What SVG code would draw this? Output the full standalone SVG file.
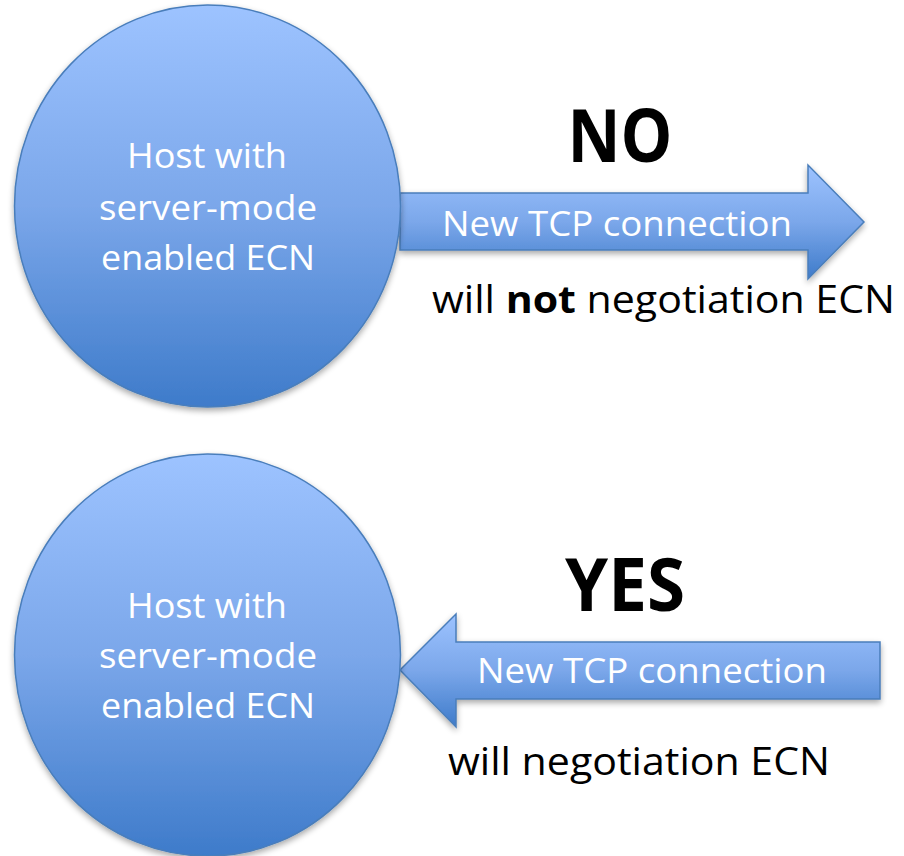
<svg xmlns="http://www.w3.org/2000/svg" width="904" height="856" viewBox="0 0 904 856">
  <defs>
    <linearGradient id="gBlue" x1="0" y1="0" x2="0" y2="1">
      <stop offset="0" stop-color="#9DC3FF"/>
      <stop offset="0.5" stop-color="#7BA7EA"/>
      <stop offset="1" stop-color="#3E7BCA"/>
    </linearGradient>
    <filter id="shadow" x="-10%" y="-10%" width="120%" height="125%">
      <feGaussianBlur in="SourceAlpha" stdDeviation="3"/>
      <feOffset dx="0" dy="3" result="b"/>
      <feComponentTransfer><feFuncA type="linear" slope="0.35"/></feComponentTransfer>
      <feMerge><feMergeNode/><feMergeNode in="SourceGraphic"/></feMerge>
    </filter>
  </defs>
  <style>
    .shape { fill: url(#gBlue); stroke: #4A7EBB; stroke-width: 1.5; filter: url(#shadow); }
    .wt { fill: #FFFFFF; font-family: "Open Sans", "Liberation Sans", sans-serif; font-size: 34px; text-anchor: middle; }
    .bt { fill: #000000; font-family: "Open Sans", "Liberation Sans", sans-serif; }
    .big { font-size: 74px; font-weight: bold; text-anchor: middle; }
    .note { font-size: 38px; }
  </style>
  <rect width="904" height="856" fill="#FFFFFF"/>

  <g id="connectors">
    <g id="arrow-top">
      <polygon class="shape" points="400,193 808,193 808,165 864,222 808,279 808,250 400,250"/>
      <text class="wt" x="617" y="236" textLength="350" lengthAdjust="spacingAndGlyphs">New TCP connection</text>
    </g>
    <g id="arrow-bottom">
      <polygon class="shape" points="400,670 456,614 456,642 880,642 880,699 456,699 456,727"/>
      <text class="wt" x="652" y="683" textLength="350" lengthAdjust="spacingAndGlyphs">New TCP connection</text>
    </g>
  </g>

  <g id="host-top">
    <ellipse class="shape" cx="207.5" cy="206" rx="193" ry="201"/>
    <text class="wt" x="207" y="168" textLength="160" lengthAdjust="spacingAndGlyphs">Host with</text>
    <text class="wt" x="208" y="220" textLength="218" lengthAdjust="spacingAndGlyphs">server-mode</text>
    <text class="wt" x="208" y="270" textLength="214" lengthAdjust="spacingAndGlyphs">enabled ECN</text>
  </g>

  <g id="host-bottom">
    <ellipse class="shape" cx="207.5" cy="655" rx="193" ry="201"/>
    <text class="wt" x="207" y="618" textLength="160" lengthAdjust="spacingAndGlyphs">Host with</text>
    <text class="wt" x="208" y="668" textLength="218" lengthAdjust="spacingAndGlyphs">server-mode</text>
    <text class="wt" x="208" y="718" textLength="214" lengthAdjust="spacingAndGlyphs">enabled ECN</text>
  </g>

  <g id="label-no">
    <text class="bt big" x="620" y="162" textLength="105" lengthAdjust="spacingAndGlyphs">NO</text>
    <text class="bt note" x="432" y="313" textLength="463" lengthAdjust="spacingAndGlyphs">will <tspan font-weight="bold">not</tspan> negotiation ECN</text>
  </g>

  <g id="label-yes">
    <text class="bt big" x="625" y="611" textLength="120" lengthAdjust="spacingAndGlyphs">YES</text>
    <text class="bt note" x="448" y="775" textLength="382" lengthAdjust="spacingAndGlyphs">will negotiation ECN</text>
  </g>
</svg>
